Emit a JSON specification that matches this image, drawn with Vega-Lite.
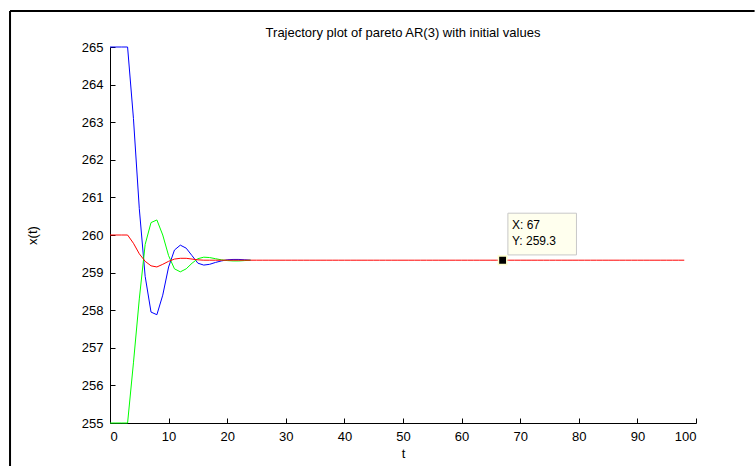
{
  "$schema": "https://vega.github.io/schema/vega-lite/v6.json",
  "width": 586,
  "height": 376,
  "autosize": "none",
  "padding": {"left": 110, "top": 47, "right": 59, "bottom": 43},
  "background": "white",
  "config": {
    "view": {"stroke": null},
    "font": "Liberation Sans",
    "axis": {
      "grid": false,
      "domainColor": "black",
      "domainWidth": 1,
      "tickColor": "black",
      "tickWidth": 1,
      "tickSize": -5,
      "labelFont": "Liberation Sans",
      "labelFontSize": 13,
      "labelColor": "black",
      "titleFont": "Liberation Sans",
      "titleFontSize": 13,
      "titleFontWeight": "normal",
      "titleColor": "black"
    }
  },
  "title": {
    "text": "Trajectory plot of pareto AR(3) with initial values",
    "font": "Liberation Sans",
    "fontSize": 13,
    "fontWeight": "normal",
    "color": "black",
    "offset": 0,
    "dy": 30
  },
  "data": {
    "values": [
      {"t":0,"x":265,"s":"b"},{"t":1,"x":265,"s":"b"},{"t":2,"x":265,"s":"b"},{"t":3,"x":265,"s":"b"},{"t":4,"x":263.1,"s":"b"},{"t":5,"x":260.7,"s":"b"},{"t":6,"x":258.9,"s":"b"},{"t":7,"x":257.95,"s":"b"},{"t":8,"x":257.88,"s":"b"},{"t":9,"x":258.4,"s":"b"},{"t":10,"x":259.15,"s":"b"},{"t":11,"x":259.6,"s":"b"},{"t":12,"x":259.73,"s":"b"},{"t":13,"x":259.65,"s":"b"},{"t":14,"x":259.45,"s":"b"},{"t":15,"x":259.25,"s":"b"},{"t":16,"x":259.2,"s":"b"},{"t":17,"x":259.22,"s":"b"},{"t":18,"x":259.27,"s":"b"},{"t":19,"x":259.31,"s":"b"},{"t":20,"x":259.34,"s":"b"},{"t":21,"x":259.35,"s":"b"},{"t":22,"x":259.35,"s":"b"},{"t":23,"x":259.34,"s":"b"},{"t":24,"x":259.33,"s":"b"},
      {"t":0,"x":255,"s":"g"},{"t":1,"x":255,"s":"g"},{"t":2,"x":255,"s":"g"},{"t":3,"x":255,"s":"g"},{"t":4,"x":256.6,"s":"g"},{"t":5,"x":258.3,"s":"g"},{"t":6,"x":259.75,"s":"g"},{"t":7,"x":260.33,"s":"g"},{"t":8,"x":260.4,"s":"g"},{"t":9,"x":260.0,"s":"g"},{"t":10,"x":259.45,"s":"g"},{"t":11,"x":259.1,"s":"g"},{"t":12,"x":259.02,"s":"g"},{"t":13,"x":259.1,"s":"g"},{"t":14,"x":259.25,"s":"g"},{"t":15,"x":259.37,"s":"g"},{"t":16,"x":259.41,"s":"g"},{"t":17,"x":259.4,"s":"g"},{"t":18,"x":259.37,"s":"g"},{"t":19,"x":259.34,"s":"g"},{"t":20,"x":259.32,"s":"g"},{"t":21,"x":259.31,"s":"g"},{"t":22,"x":259.31,"s":"g"},{"t":23,"x":259.32,"s":"g"},{"t":24,"x":259.33,"s":"g"},
      {"t":0,"x":260,"s":"r"},{"t":1,"x":260,"s":"r"},{"t":2,"x":260,"s":"r"},{"t":3,"x":260,"s":"r"},{"t":4,"x":259.78,"s":"r"},{"t":5,"x":259.5,"s":"r"},{"t":6,"x":259.3,"s":"r"},{"t":7,"x":259.18,"s":"r"},{"t":8,"x":259.15,"s":"r"},{"t":9,"x":259.22,"s":"r"},{"t":10,"x":259.3,"s":"r"},{"t":11,"x":259.36,"s":"r"},{"t":12,"x":259.38,"s":"r"},{"t":13,"x":259.38,"s":"r"},{"t":14,"x":259.36,"s":"r"},{"t":15,"x":259.34,"s":"r"},{"t":16,"x":259.33,"s":"r"},{"t":17,"x":259.33,"s":"r"},{"t":18,"x":259.33,"s":"r"},{"t":19,"x":259.33,"s":"r"},
      {"t":20,"x":259.33,"s":"r"},{"t":21,"x":259.33,"s":"r"},{"t":22,"x":259.33,"s":"r"},{"t":23,"x":259.33,"s":"r"},{"t":24,"x":259.33,"s":"r"},{"t":25,"x":259.33,"s":"r"},{"t":26,"x":259.33,"s":"r"},{"t":27,"x":259.33,"s":"r"},{"t":28,"x":259.33,"s":"r"},{"t":29,"x":259.33,"s":"r"},{"t":30,"x":259.33,"s":"r"},{"t":31,"x":259.33,"s":"r"},{"t":32,"x":259.33,"s":"r"},{"t":33,"x":259.33,"s":"r"},{"t":34,"x":259.33,"s":"r"},{"t":35,"x":259.33,"s":"r"},{"t":36,"x":259.33,"s":"r"},{"t":37,"x":259.33,"s":"r"},{"t":38,"x":259.33,"s":"r"},{"t":39,"x":259.33,"s":"r"},
      {"t":40,"x":259.33,"s":"r"},{"t":41,"x":259.33,"s":"r"},{"t":42,"x":259.33,"s":"r"},{"t":43,"x":259.33,"s":"r"},{"t":44,"x":259.33,"s":"r"},{"t":45,"x":259.33,"s":"r"},{"t":46,"x":259.33,"s":"r"},{"t":47,"x":259.33,"s":"r"},{"t":48,"x":259.33,"s":"r"},{"t":49,"x":259.33,"s":"r"},{"t":50,"x":259.33,"s":"r"},{"t":51,"x":259.33,"s":"r"},{"t":52,"x":259.33,"s":"r"},{"t":53,"x":259.33,"s":"r"},{"t":54,"x":259.33,"s":"r"},{"t":55,"x":259.33,"s":"r"},{"t":56,"x":259.33,"s":"r"},{"t":57,"x":259.33,"s":"r"},{"t":58,"x":259.33,"s":"r"},{"t":59,"x":259.33,"s":"r"},
      {"t":60,"x":259.33,"s":"r"},{"t":61,"x":259.33,"s":"r"},{"t":62,"x":259.33,"s":"r"},{"t":63,"x":259.33,"s":"r"},{"t":64,"x":259.33,"s":"r"},{"t":65,"x":259.33,"s":"r"},{"t":66,"x":259.33,"s":"r"},{"t":67,"x":259.33,"s":"r"},{"t":68,"x":259.33,"s":"r"},{"t":69,"x":259.33,"s":"r"},{"t":70,"x":259.33,"s":"r"},{"t":71,"x":259.33,"s":"r"},{"t":72,"x":259.33,"s":"r"},{"t":73,"x":259.33,"s":"r"},{"t":74,"x":259.33,"s":"r"},{"t":75,"x":259.33,"s":"r"},{"t":76,"x":259.33,"s":"r"},{"t":77,"x":259.33,"s":"r"},{"t":78,"x":259.33,"s":"r"},{"t":79,"x":259.33,"s":"r"},
      {"t":80,"x":259.33,"s":"r"},{"t":81,"x":259.33,"s":"r"},{"t":82,"x":259.33,"s":"r"},{"t":83,"x":259.33,"s":"r"},{"t":84,"x":259.33,"s":"r"},{"t":85,"x":259.33,"s":"r"},{"t":86,"x":259.33,"s":"r"},{"t":87,"x":259.33,"s":"r"},{"t":88,"x":259.33,"s":"r"},{"t":89,"x":259.33,"s":"r"},{"t":90,"x":259.33,"s":"r"},{"t":91,"x":259.33,"s":"r"},{"t":92,"x":259.33,"s":"r"},{"t":93,"x":259.33,"s":"r"},{"t":94,"x":259.33,"s":"r"},{"t":95,"x":259.33,"s":"r"},{"t":96,"x":259.33,"s":"r"},{"t":97,"x":259.33,"s":"r"},{"t":98,"x":259.33,"s":"r"}
    ]
  },
  "encoding": {
    "x": {
      "field": "t", "type": "quantitative",
      "scale": {"domain": [0, 100], "nice": false, "zero": false},
      "axis": {"title": "t", "values": [0,10,20,30,40,50,60,70,80,90,100], "labelPadding": 12, "titlePadding": 4}
    },
    "y": {
      "field": "x", "type": "quantitative",
      "scale": {"domain": [255, 265], "nice": false, "zero": false},
      "axis": {"title": "x(t)", "values": [255,256,257,258,259,260,261,262,263,264,265], "labelPadding": 12, "titlePadding": 42}
    }
  },
  "layer": [
    {"transform": [{"filter": "datum.s === 'r' && datum.t === 67"}], "mark": {"type": "rule", "color": "black", "strokeWidth": 2, "clip": false},
     "encoding": {"x": {"datum": -17.06}, "x2": {"datum": 110}, "y": {"datum": 265.957}, "y2": {"datum": 265.957}}},
    {"transform": [{"filter": "datum.s === 'r' && datum.t === 67"}], "mark": {"type": "rule", "color": "black", "strokeWidth": 2, "clip": false},
     "encoding": {"x": {"datum": -17.06}, "x2": {"datum": -17.06}, "y": {"datum": 265.957}, "y2": {"datum": 253.5}}},
    {"transform": [{"filter": "datum.s === 'b'"}], "mark": {"type": "line", "color": "#0000ff", "strokeWidth": 1}},
    {"transform": [{"filter": "datum.s === 'g'"}], "mark": {"type": "line", "color": "#00ff00", "strokeWidth": 1}},
    {"transform": [{"filter": "datum.s === 'r'"}], "mark": {"type": "line", "color": "#ff0000", "strokeWidth": 1}},
    {"transform": [{"filter": "datum.s === 'r' && datum.t === 67"}],
     "mark": {"type": "point", "shape": "square", "filled": true, "size": 70, "color": "black", "stroke": "#ffffcc", "strokeWidth": 1.5, "opacity": 1}},
    {"transform": [{"filter": "datum.s === 'r' && datum.t === 67"}], "mark": {"type": "rect", "fill": "#ffffee", "stroke": "#c8c8c8", "strokeWidth": 1},
     "encoding": {"x": {"datum": 67.9}, "x2": {"datum": 79.6}, "y": {"datum": 260.58}, "y2": {"datum": 259.47}}},
    {"transform": [{"filter": "datum.s === 'r' && datum.t === 67"}], "mark": {"type": "text", "align": "left", "baseline": "middle", "fontSize": 12, "font": "Liberation Sans", "color": "black"},
     "encoding": {"x": {"datum": 68.6}, "y": {"datum": 260.27}, "text": {"value": "X: 67"}}},
    {"transform": [{"filter": "datum.s === 'r' && datum.t === 67"}], "mark": {"type": "text", "align": "left", "baseline": "middle", "fontSize": 12, "font": "Liberation Sans", "color": "black"},
     "encoding": {"x": {"datum": 68.6}, "y": {"datum": 259.85}, "text": {"value": "Y: 259.3"}}}
  ]
}
